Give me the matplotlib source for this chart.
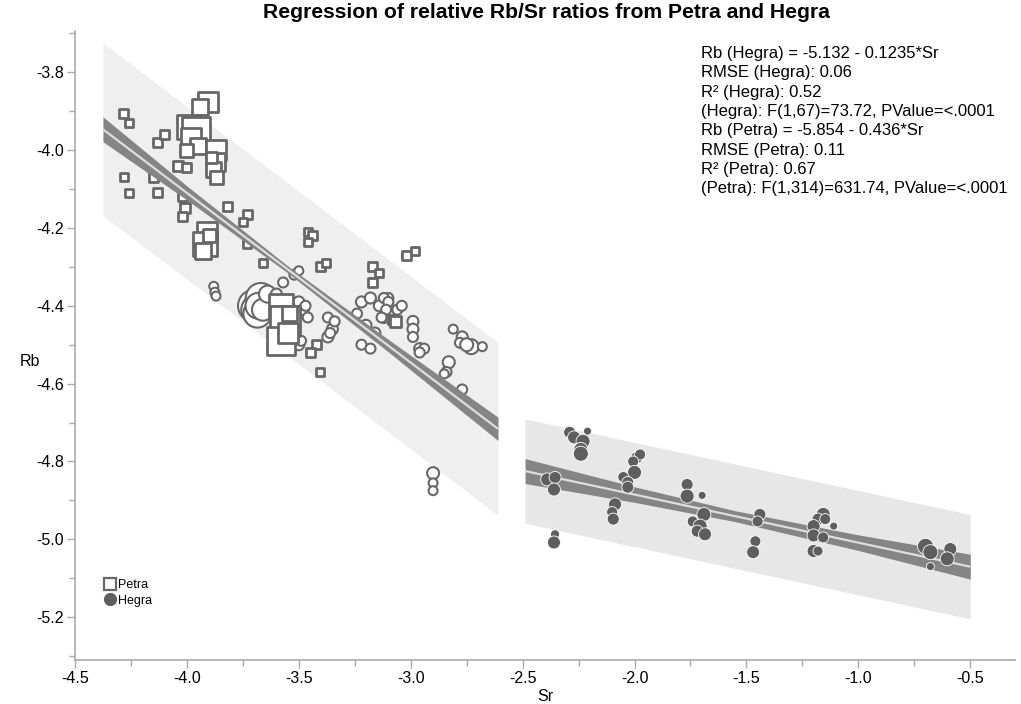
import numpy as np
import matplotlib
matplotlib.use("Agg")
import matplotlib.pyplot as plt
from matplotlib.lines import Line2D

plt.rcParams['font.family'] = ['Liberation Sans', 'DejaVu Sans']

# ---------------- data ----------------
petra_sq_sr = [-4.285, -4.258, -4.28, -4.26, -4.13, -4.10, -4.15, -4.13,
               -3.906, -3.94, -3.99, -3.96, -3.98, -3.95, -4.0,
               -3.87, -3.87, -3.88, -3.87, -3.89,
               -4.04, -4.0, -4.02, -4.01, -4.02,
               -3.82, -3.73, -3.75,
               -3.91, -3.92, -3.93, -3.90,
               -3.73, -3.46, -3.44, -3.46,
               -3.66, -3.405, -3.38,
               -3.17, -3.14, -3.17,
               -3.02, -2.98,
               -3.58, -3.56, -3.58, -3.55, -3.54,
               -3.42, -3.45, -3.405,
               -3.08, -3.07]
petra_sq_rb = [-3.905, -3.93, -4.07, -4.11, -3.98, -3.96, -4.07, -4.11,
               -3.876, -3.89, -3.94, -3.95, -3.97, -3.99, -4.0,
               -4.00, -4.03, -4.05, -4.07, -4.02,
               -4.04, -4.045, -4.12, -4.15, -4.17,
               -4.145, -4.166, -4.184,
               -4.21, -4.24, -4.26, -4.22,
               -4.24, -4.21, -4.22, -4.235,
               -4.29, -4.30, -4.29,
               -4.30, -4.315, -4.34,
               -4.27, -4.26,
               -4.40, -4.44, -4.49, -4.47, -4.42,
               -4.50, -4.52, -4.57,
               -4.435, -4.44]
petra_sq_size = [9, 8, 8, 8, 9, 9, 9, 9,
                 20, 16, 24, 28, 20, 16, 13,
                 20, 18, 15, 13, 11,
                 10, 9, 9, 10, 9,
                 9, 9, 8,
                 20, 24, 16, 13,
                 8, 8, 9, 8,
                 8, 9, 8,
                 9, 8, 9,
                 9, 8,
                 24, 30, 28, 20, 15,
                 9, 9, 8,
                 9, 11]

petra_ci_sr = [-3.88, -3.875, -3.87,
               -3.70, -3.69, -3.685, -3.67, -3.68, -3.66, -3.64,
               -3.60, -3.57, -3.52, -3.50,
               -3.50, -3.48, -3.46, -3.47,
               -3.37, -3.35, -3.37, -3.34, -3.36,
               -3.50, -3.49,
               -3.22, -3.18, -3.14, -3.10, -3.24, -3.20, -3.16, -3.12, -3.06, -3.04,
               -3.22, -3.18, -3.12, -3.10, -3.11, -3.13,
               -2.99, -2.99, -2.99, -2.96, -2.94, -2.96,
               -2.81, -2.77, -2.78, -2.73, -2.68, -2.75,
               -2.83, -2.84, -2.85,
               -2.77, -2.76,
               -2.90, -2.90, -2.90]
petra_ci_rb = [-4.35, -4.365, -4.375,
               -4.40, -4.41, -4.42, -4.38, -4.40, -4.41, -4.37,
               -4.37, -4.34, -4.32, -4.31,
               -4.39, -4.41, -4.43, -4.40,
               -4.43, -4.46, -4.48, -4.44, -4.47,
               -4.50, -4.49,
               -4.39, -4.38, -4.40, -4.38, -4.42, -4.45, -4.47, -4.43, -4.41, -4.40,
               -4.50, -4.51, -4.38, -4.39, -4.41, -4.43,
               -4.44, -4.46, -4.48, -4.51, -4.51, -4.52,
               -4.46, -4.48, -4.495, -4.505, -4.505, -4.50,
               -4.545, -4.57, -4.575,
               -4.615, -4.645,
               -4.83, -4.855, -4.875]
petra_ci_size = [9, 9, 9,
                 32, 30, 28, 30, 26, 22, 17,
                 11, 10, 10, 9,
                 11, 11, 10, 10,
                 10, 11, 11, 10, 10,
                 11, 10,
                 11, 11, 11, 10, 10, 11, 11, 11, 10, 10,
                 10, 10, 10, 10, 10, 10,
                 11, 11, 10, 11, 10, 10,
                 9, 11, 10, 15, 9, 13,
                 12, 10, 9,
                 10, 10,
                 12, 9, 9]

hegra_sr = [-2.29, -2.27, -2.23, -2.21, -2.24, -2.24,
            -2.39, -2.355, -2.36,
            -2.355, -2.36,
            -1.99, -1.975, -2.006,
            -2.0, -2.05, -2.03, -2.03,
            -2.087, -2.1, -2.095,
            -1.765, -1.765, -1.698,
            -1.69, -1.74, -1.707, -1.72, -1.685,
            -1.44, -1.45, -1.46, -1.47,
            -1.157, -1.18, -1.2, -1.148, -1.11,
            -1.2, -1.157, -1.2, -1.18,
            -0.70, -0.678, -0.589, -0.603, -0.678]
hegra_rb = [-4.725, -4.738, -4.748, -4.722, -4.769, -4.78,
            -4.846, -4.841, -4.872,
            -4.987, -5.008,
            -4.79, -4.782, -4.80,
            -4.828, -4.84, -4.854, -4.866,
            -4.91, -4.93, -4.948,
            -4.859, -4.889, -4.887,
            -4.936, -4.954, -4.966, -4.979, -4.987,
            -4.936, -4.954, -5.005, -5.033,
            -4.936, -4.948, -4.966, -4.948, -4.966,
            -4.99, -4.995, -5.03, -5.03,
            -5.018, -5.033, -5.025, -5.05, -5.07]
hegra_size = [12, 13, 14, 8, 14, 15,
              13, 12, 13,
              9, 13,
              12, 11, 11,
              14, 11, 12, 12,
              13, 11, 12,
              12, 14, 8,
              14, 11, 14, 12, 13,
              12, 11, 11, 13,
              14, 12, 13, 11, 8,
              13, 11, 13, 10,
              16, 15, 13, 14, 8]

# fits (from the annotation) and band extents
petra_fit = (-5.854, -0.436)
hegra_fit = (-5.132, -0.1235)
petra_range = (-4.375, -2.61)
hegra_range = (-2.489, -0.5)
petra_pred_hw = 0.222
hegra_pred_hw = 0.134
petra_ci_x = [-4.375, -4.0, -3.55, -3.1, -2.61]
petra_ci_hw = [0.032, 0.018, 0.009, 0.016, 0.030]
hegra_ci_x = [-2.489, -2.0, -1.55, -1.0, -0.5]
hegra_ci_hw = [0.032, 0.020, 0.014, 0.020, 0.032]

title = "Regression of relative Rb/Sr ratios from Petra and Hegra"
stats_lines = ["Rb (Hegra) = -5.132 - 0.1235*Sr",
               "RMSE (Hegra): 0.06",
               "R\u00b2 (Hegra): 0.52",
               "(Hegra): F(1,67)=73.72, PValue=<.0001",
               "Rb (Petra) = -5.854 - 0.436*Sr",
               "RMSE (Petra): 0.11",
               "R\u00b2 (Petra): 0.67",
               "(Petra): F(1,314)=631.74, PValue=<.0001"]
x_ticks = [-4.5, -4.0, -3.5, -3.0, -2.5, -2.0, -1.5, -1.0, -0.5]
y_ticks = [-3.8, -4.0, -4.2, -4.4, -4.6, -4.8, -5.0, -5.2]

# ---------------- plot ----------------
W, H = 1021, 704
fig = plt.figure(figsize=(W / 100, H / 100), dpi=100)
ax = fig.add_axes([75 / W, 1 - 660 / H, (1015 - 75) / W, (660 - 31) / H])
ax.set_xlim(-4.5, -0.3)
ax.set_ylim(-5.31, -3.694)

def px2pt(d):
    return (np.asarray(d) * 0.72) ** 2

def draw_fit(rng, fit, pred_hw, ci_x, ci_hw, band_col, z):
    xs = np.linspace(rng[0], rng[1], 200)
    ys = fit[0] + fit[1] * xs
    ax.fill_between(xs, ys - pred_hw, ys + pred_hw, color=band_col, lw=0, zorder=1)
    hw = np.interp(xs, ci_x, ci_hw)
    ax.fill_between(xs, ys - hw, ys + hw, color='#858585', lw=0, zorder=z)
    ax.plot(xs, ys, color='#dedede', lw=1.6, zorder=z + 0.1, solid_capstyle='butt')

draw_fit(petra_range, petra_fit, petra_pred_hw, petra_ci_x, petra_ci_hw, '#efefef', 6)
draw_fit(hegra_range, hegra_fit, hegra_pred_hw, hegra_ci_x, hegra_ci_hw, '#e7e7e7', 2)

gray = '#676767'
ax.scatter(petra_ci_sr, petra_ci_rb, s=px2pt(petra_ci_size), marker='o',
           facecolor='white', edgecolor=gray, linewidths=1.5, zorder=4)
ax.scatter(petra_sq_sr, petra_sq_rb, s=px2pt(petra_sq_size), marker='s',
           facecolor='white', edgecolor=gray, linewidths=2.0, zorder=5)
ax.scatter(hegra_sr, hegra_rb, s=px2pt(hegra_size), marker='o',
           facecolor='#5e5e5e', edgecolor='white', linewidths=0.6, zorder=4)

# axes styling
for sp in ('top', 'right'):
    ax.spines[sp].set_visible(False)
for sp in ('left', 'bottom'):
    ax.spines[sp].set_color('#aaaaaa')
    ax.spines[sp].set_linewidth(1.2)
ax.set_xticks(x_ticks)
ax.set_xticklabels([f"{v:.1f}" for v in x_ticks])
ax.set_yticks(y_ticks)
ax.set_yticklabels([f"{v:.1f}" for v in y_ticks])
ax.set_xticks(np.arange(-4.25, -0.3, 0.5), minor=True)
ax.set_yticks(np.arange(-5.3, -3.69, 0.2), minor=True)
ax.tick_params(which='major', length=6, color='#aaaaaa', width=1, labelsize=11.5,
               labelcolor='black', pad=2)
ax.tick_params(which='minor', length=4, color='#aaaaaa', width=1)
ax.set_facecolor('white')

ax.set_xlabel("Sr", fontsize=11.5, labelpad=2)
fig.text(30 / W, 1 - 362 / H, "Rb", fontsize=11.5, ha='center', va='center')
fig.text(546 / W, 1 - 12 / H, title, fontsize=15.2, fontweight='bold',
         ha='center', va='center')

for i, line in enumerate(stats_lines):
    fig.text(701 / W, 1 - (53.5 + 19.3 * i) / H, line, fontsize=12,
             ha='left', va='center')

handles = [Line2D([], [], marker='s', ls='none', markersize=8,
                  markerfacecolor='white', markeredgecolor=gray, markeredgewidth=1.6),
           Line2D([], [], marker='o', ls='none', markersize=8.5,
                  markerfacecolor='#5e5e5e', markeredgecolor='#5e5e5e')]
ax.legend(handles, ["Petra", "Hegra"], loc='upper left',
          bbox_to_anchor=(27 / 940, (660 - 579) / 629), frameon=False,
          fontsize=9, handletextpad=0.05, labelspacing=0.3, borderpad=0,
          handlelength=1.2, borderaxespad=0)

fig.savefig("out.png", dpi=100)
